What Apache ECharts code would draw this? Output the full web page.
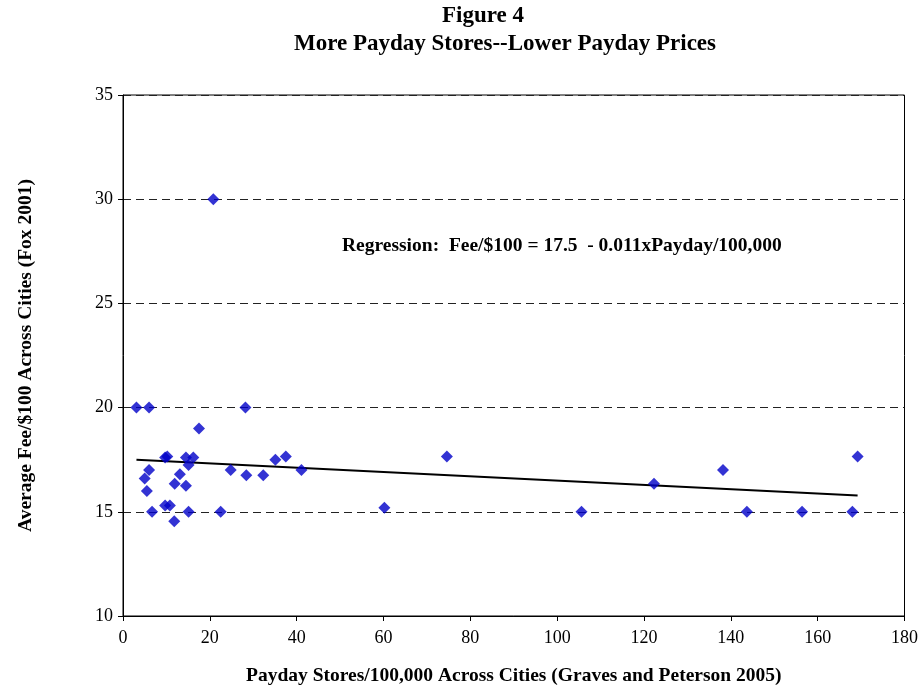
<!DOCTYPE html>
<html>
<head>
<meta charset="utf-8">
<script src="https://cdn.jsdelivr.net/npm/echarts@6/dist/echarts.min.js"></script>
<style>html,body{margin:0;padding:0;background:#fff}#c{width:921px;height:691px}</style>
</head>
<body>
<div id="c"></div>
<script>
const titleMain = 'Figure 4';
const titleSub = 'More Payday Stores--Lower Payday Prices';
const xName = 'Payday Stores/100,000 Across Cities (Graves and Peterson 2005)';
const yName = 'Average Fee/$100 Across Cities (Fox 2001)';
const annotation = 'Regression:  Fee/$100 = 17.5  - 0.011xPayday/100,000';

const storesPer100k = [3.1, 6.0, 28.2, 17.5, 10.2, 9.7, 14.5, 16.2, 15.1, 6.0, 5.0, 13.1, 11.9, 14.5, 5.5,
  24.8, 28.4, 32.3, 35.1, 37.5, 41.1, 6.7, 9.7, 10.8, 11.8, 15.1, 22.5, 20.8,
  60.2, 74.6, 105.6, 122.3, 138.2, 143.7, 156.4, 168.0, 169.2];
const feePer100 = [20, 20, 20, 19.0, 17.65, 17.6, 17.6, 17.6, 17.25, 17.0, 16.6, 16.8, 16.35, 16.25, 16.0,
  17.0, 16.75, 16.75, 17.5, 17.65, 17.0, 15.0, 15.3, 15.3, 14.55, 15.0, 15.0, 30.0,
  15.2, 17.65, 15.0, 16.35, 17.0, 15.0, 15.0, 15.0, 17.65];
const fitX = [3.1, 169.2];
const fitY = [17.5, 15.78];

const serif = '"Liberation Serif", "DejaVu Serif", serif';
const chart = echarts.init(document.getElementById('c'));
chart.setOption({
  animation: false,
  backgroundColor: '#fff',
  title: [
    {text: titleMain, left: 478, top: 0, textAlign: 'center',
     textStyle: {fontFamily: serif, fontWeight: 'bold', fontSize: 23, color: '#000'}},
    {text: titleSub, left: 500, top: 28, textAlign: 'center',
     textStyle: {fontFamily: serif, fontWeight: 'bold', fontSize: 23, color: '#000'}}
  ],
  grid: {left: 123, right: 15, top: 95, bottom: 64, show: true, borderColor: '#000', borderWidth: 1, backgroundColor: '#fff'},
  xAxis: {
    type: 'value', min: 0, max: 180, interval: 20,
    name: xName, nameLocation: 'middle', nameGap: 50,
    nameTextStyle: {fontFamily: serif, fontWeight: 'bold', fontSize: 19.5, color: '#000'},
    axisLine: {lineStyle: {color: '#000', width: 1}},
    axisTick: {show: true, length: 5, lineStyle: {color: '#000'}},
    axisLabel: {fontFamily: serif, fontSize: 18, color: '#000', margin: 13},
    splitLine: {show: false}
  },
  yAxis: {
    type: 'value', min: 10, max: 35, interval: 5,
    name: yName, nameLocation: 'middle', nameGap: 87, nameRotate: 90,
    nameTextStyle: {fontFamily: serif, fontWeight: 'bold', fontSize: 19.5, color: '#000'},
    axisLine: {show: true, lineStyle: {color: '#000', width: 1}},
    axisTick: {show: true, length: 5, lineStyle: {color: '#000'}},
    axisLabel: {fontFamily: serif, fontSize: 18, color: '#000', margin: 10},
    splitLine: {show: true, lineStyle: {color: '#222', type: [8, 5], width: 1}}
  },
  graphic: [
    {type: 'text', left: 342, top: 236,
     style: {text: annotation, font: 'bold 19.5px ' + serif, fill: '#000'}}
  ],
  series: [
    {type: 'line', data: fitX.map((x, i) => [x, fitY[i]]), symbol: 'none',
     lineStyle: {color: '#000', width: 2}, z: 2},
    {type: 'scatter', data: storesPer100k.map((x, i) => [x, feePer100[i]]),
     symbol: 'diamond', symbolSize: 12, itemStyle: {color: '#0000C8'}, z: 3}
  ]
});
</script>
</body>
</html>
